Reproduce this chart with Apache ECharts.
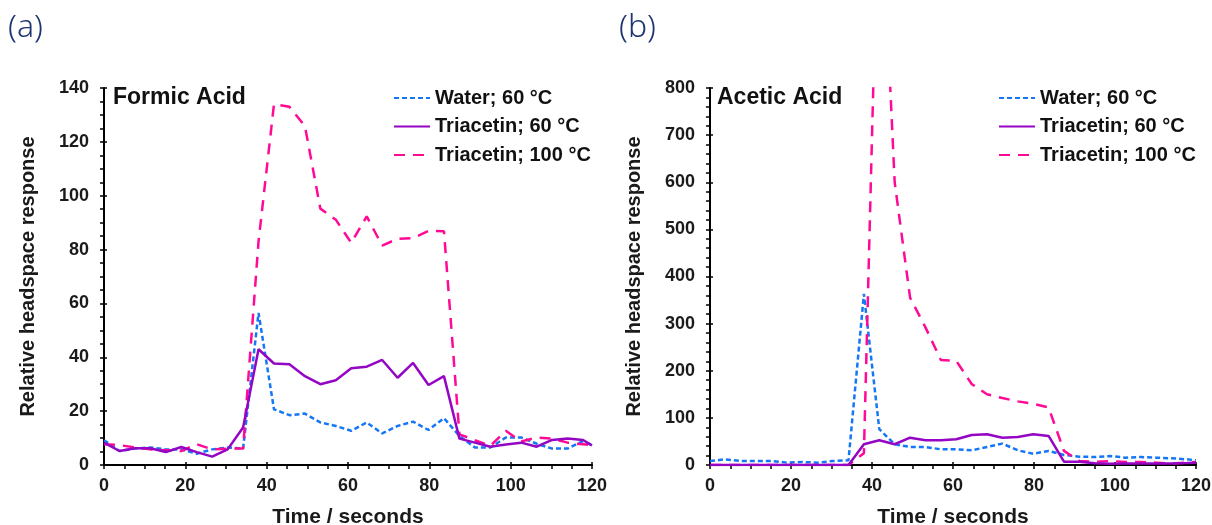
<!DOCTYPE html>
<html>
<head>
<meta charset="utf-8">
<script src="https://cdn.jsdelivr.net/npm/echarts@6/dist/echarts.min.js"></script>
<style>
html,body{margin:0;padding:0;background:#fff;}
#chart{width:1212px;height:525px;}
</style>
</head>
<body>
<div id="chart"></div>
<script>
// ---- data ----
const time = [0,3.8,7.6,11.4,15.2,19,22.8,26.6,30.4,34.2,38,41.8,45.6,49.4,53.2,57,60.8,64.6,68.4,72.2,76,79.8,83.6,87.4,91.2,95,98.8,102.6,106.4,110.2,114,117.8,120];

const seriesNames = ['Water; 60 °C', 'Triacetin; 60 °C', 'Triacetin; 100 °C'];

// Panel (a) Formic Acid
const formicWater60 = [9.2,5.2,6.1,6.5,5.8,5.8,4.2,5.8,6.5,6.1,56.5,20.7,18.5,19.1,15.8,14.5,12.7,15.8,11.7,14.5,16.1,13,17.4,10.8,6.5,6.5,10.2,10.2,7.9,6.1,6.1,8.9,7.3];
const formicTri60 = [8.3,5.2,6.2,6.2,4.8,6.7,4.8,3.1,5.8,13.9,43,37.7,37.4,33,30,31.5,35.9,36.5,39,32.4,37.9,29.7,33,9.8,8.3,6.8,7.6,8.3,6.8,9.3,9.8,9.3,7.3];
const formicTri100 = [7.7,7.4,6.5,5.8,5.5,5.2,7.7,5.8,6.1,6.1,83,134,133,125.9,95.2,91.1,82.5,92.3,81.5,84,84.3,86.9,86.8,11.4,9.2,7.1,12.7,8.7,10.2,9.8,8.3,7.7,7.3];

// Panel (b) Acetic Acid
const aceticWater60 = [8.5,12,8.5,8.5,8.5,5,6.4,5,8.5,10,363,76,44,38.3,38.3,33.3,33.3,31.2,38.3,45.4,31.2,24,29.8,21.3,17.7,17,19.1,15.6,17,15.6,14.2,12,10];
const aceticTri60 = [0,0,0,0,0,0,0,0,0,0,44,52.5,44,58,52.5,52.5,54.6,63.8,65.2,58,59.6,65.2,61.7,7,7,3.5,2.8,3,3,3,3,4,5];
const aceticTri100 = [0,0,0,0,0,0,0,0,0,0,25,1300,600,355,292,223,221,172,150,142,135,130,122,30,8.5,6.4,8.5,6.4,6.4,5,3,5,6.4];

const panelLabels = ['(a)', '(b)'];
const panelTitles = ['Formic Acid', 'Acetic Acid'];
const xTitle = 'Time / seconds';
const yTitle = 'Relative headspace response';

// ---- styles ----
const FONT = 'Liberation Sans, Arial, sans-serif';
const colors = ['#1577F5', '#9405C4', '#FF0A96'];
const lineStyles = [
  {color: colors[0], width: 2.5, type: [5, 3]},
  {color: colors[1], width: 2.5, type: 'solid'},
  {color: colors[2], width: 2.5, type: [11, 8]}
];

function zip(xs, ys){ return xs.map((x,i)=>[x, ys[i]]); }

const grids = [
  {left: 104, top: 88, width: 488, height: 377},
  {left: 710, top: 88, width: 486, height: 377}
];

const yCfg = [
  {max: 140, interval: 20, split: 4},
  {max: 800, interval: 100, split: 5}
];

const xAxes = [], yAxes = [];
grids.forEach((g, i) => {
  xAxes.push({
    type: 'value', gridIndex: i, min: 0, max: 120, interval: 20,
    name: xTitle, nameLocation: 'middle', nameGap: 42,
    nameTextStyle: {fontFamily: FONT, fontWeight: 'bold', fontSize: 21, color: '#1a1a1a'},
    axisLine: {show: true, onZero: false, lineStyle: {color: '#000', width: 2}},
    axisTick: {show: true, length: 4, lineStyle: {color: '#000', width: 1.5}},
    minorTick: {show: true, splitNumber: 4, length: 4, lineStyle: {color: '#000', width: 1.5}},
    axisLabel: {fontFamily: FONT, fontWeight: 'bold', fontSize: 18, color: '#1a1a1a', margin: 12},
    splitLine: {show: false}, minorSplitLine: {show: false}
  });
  // overlay for the inner half of major ticks
  xAxes.push({
    type: 'value', gridIndex: i, min: 0, max: 120, interval: 20, position: 'bottom',
    axisLine: {show: false}, axisLabel: {show: false},
    axisTick: {show: true, inside: true, length: 3, lineStyle: {color: '#000', width: 1.5}},
    splitLine: {show: false}
  });
  yAxes.push({
    type: 'value', gridIndex: i, min: 0, max: yCfg[i].max, interval: yCfg[i].interval,
    name: yTitle, nameLocation: 'middle', nameGap: 66,
    nameTextStyle: {fontFamily: FONT, fontWeight: 'bold', fontSize: 20, color: '#1a1a1a'},
    axisLine: {show: true, onZero: false, lineStyle: {color: '#000', width: 2}},
    axisTick: {show: true, length: 4, lineStyle: {color: '#000', width: 1.5}},
    minorTick: {show: true, splitNumber: yCfg[i].split, length: 4, lineStyle: {color: '#000', width: 1.5}},
    axisLabel: {fontFamily: FONT, fontWeight: 'bold', fontSize: 18, color: '#1a1a1a', margin: 15},
    splitLine: {show: false}, minorSplitLine: {show: false}
  });
  yAxes.push({
    type: 'value', gridIndex: i, min: 0, max: yCfg[i].max, interval: yCfg[i].interval, position: 'left',
    axisLine: {show: false}, axisLabel: {show: false},
    axisTick: {show: true, inside: true, length: 3, lineStyle: {color: '#000', width: 1.5}},
    splitLine: {show: false}
  });
});

const panelData = [
  [formicWater60, formicTri60, formicTri100],
  [aceticWater60, aceticTri60, aceticTri100]
];

const series = [];
panelData.forEach((arrs, p) => {
  arrs.forEach((arr, k) => {
    series.push({
      type: 'line', name: seriesNames[k],
      xAxisIndex: p * 2, yAxisIndex: p * 2,
      data: zip(time, arr),
      symbol: 'none', showSymbol: false, clip: true,
      lineStyle: lineStyles[k],
      itemStyle: {color: colors[k]},
      z: k === 1 ? 3 : 2,
      animation: false
    });
  });
});

const legendBase = {
  orient: 'vertical', top: 88, padding: 0, itemWidth: 36, itemHeight: 14, itemGap: 8.5,
  itemStyle: {opacity: 0},
  textStyle: {fontFamily: FONT, fontWeight: 'bold', fontSize: 20, color: '#111'},
  data: seriesNames, selectedMode: false
};

const option = {
  animation: false,
  backgroundColor: '#fff',
  grid: grids.map(g => Object.assign({containLabel: false, outerBoundsMode: 'none'}, g)),
  xAxis: xAxes,
  yAxis: yAxes,
  legend: [
    Object.assign({}, legendBase, {left: 393}),
    Object.assign({}, legendBase, {left: 998})
  ],
  graphic: [
    {type: 'text', left: 8, top: 12, style: {text: panelLabels[0], font: '300 32px "Noto Sans", sans-serif', fill: '#1D3671'}},
    {type: 'text', left: 619, top: 12, style: {text: panelLabels[1], font: '300 32px "Noto Sans", sans-serif', fill: '#1D3671'}},
    {type: 'text', left: 113, top: 86, style: {text: panelTitles[0], font: 'bold 23px "Liberation Sans", Arial, sans-serif', fill: '#111'}},
    {type: 'text', left: 717, top: 86, style: {text: panelTitles[1], font: 'bold 23px "Liberation Sans", Arial, sans-serif', fill: '#111'}}
  ],
  series: series
};

const chart = echarts.init(document.getElementById('chart'), null, {renderer: 'canvas'});
chart.setOption(option);
</script>
</body>
</html>
